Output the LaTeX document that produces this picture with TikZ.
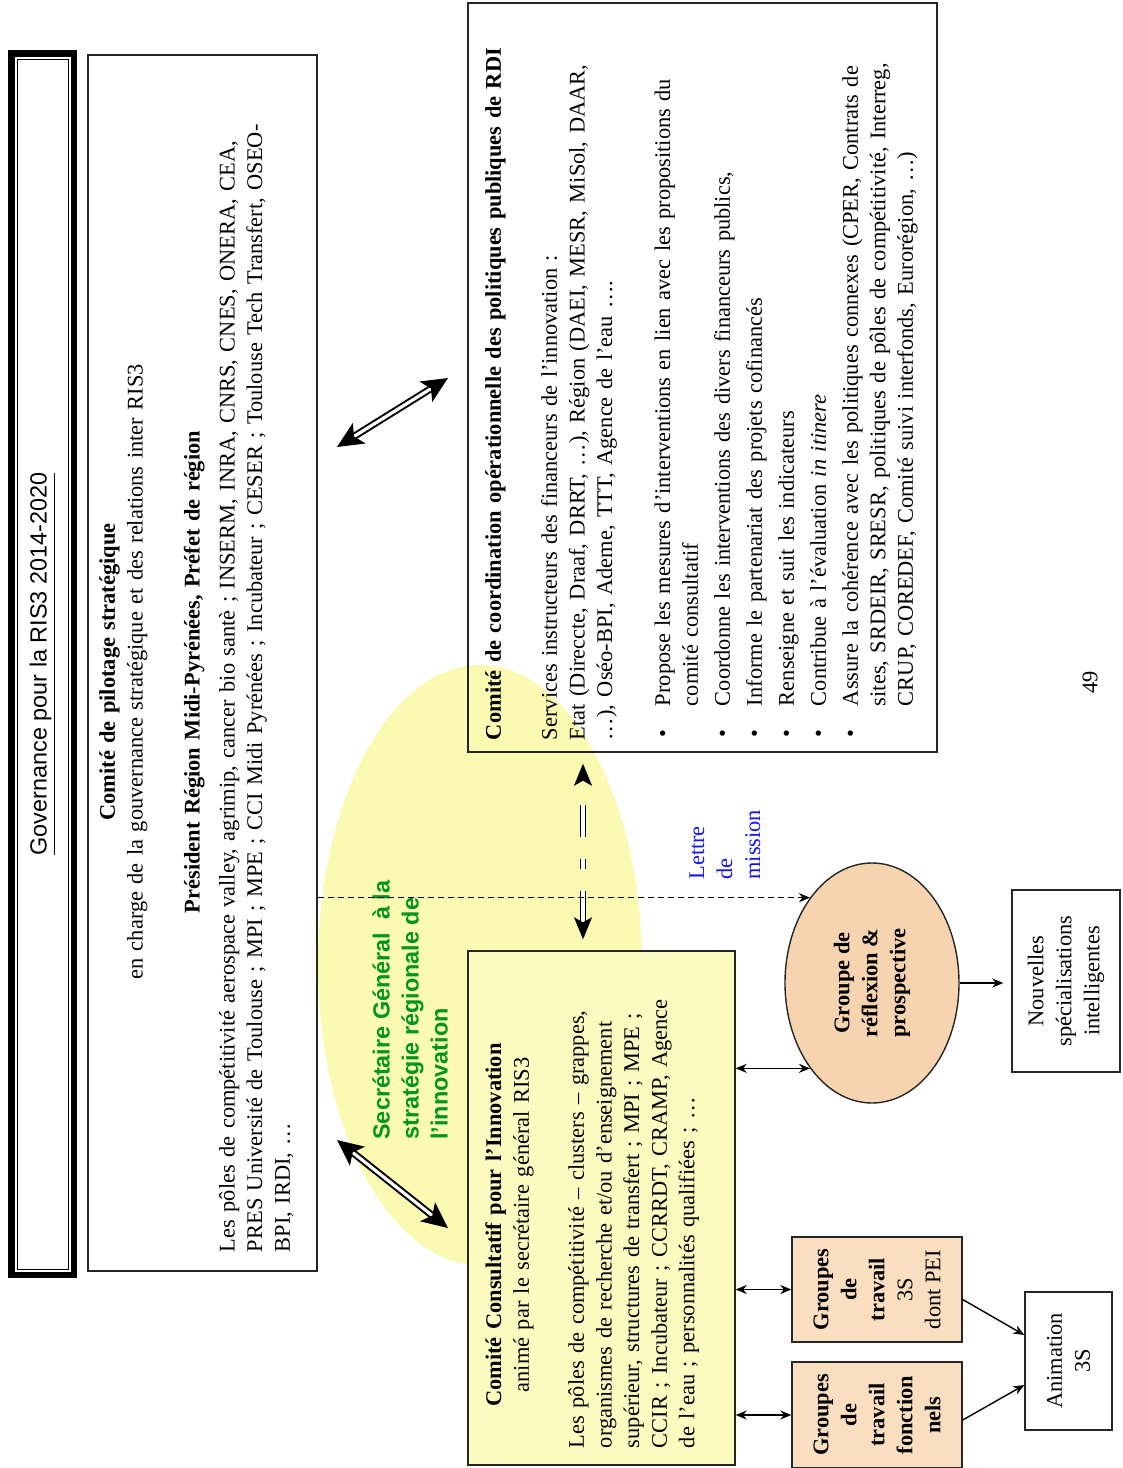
\documentclass[tikz,border=0pt]{standalone}
\usepackage{fontspec}
\setmainfont{Liberation Serif}
\setsansfont{Liberation Sans}
\usetikzlibrary{arrows.meta,shapes.geometric,calc}
\definecolor{ellyellow}{RGB}{250,250,178}
\definecolor{boxyellow}{RGB}{252,252,192}
\definecolor{peach}{RGB}{247,212,176}
\definecolor{peachbox}{RGB}{250,222,192}
\definecolor{sggreen}{RGB}{0,150,30}
\definecolor{lmblue}{RGB}{20,20,250}
\newcommand\rbul{\par\vspace{2.2pt}\noindent\hangindent=17pt\hangafter=1\makebox[17pt][l]{\hspace{1.5pt}\textbullet}}
\newcommand\jline[1]{\noindent\makebox[\linewidth][s]{#1}\par}
\begin{document}
\begin{tikzpicture}[x=0.5pt,y=-0.5pt,
  bx/.style={draw=black!85, line width=0.7pt, inner sep=0pt},
  rtxt/.style={rotate=90, inner sep=0pt, font=\fontsize{11.2}{13.8}\selectfont},
  sarr/.style={line width=0.7pt, {Stealth[length=5.5pt,width=4.5pt]}-{Stealth[length=5.5pt,width=4.5pt]}},
  oarr/.style={line width=0.7pt, -{Stealth[length=5.5pt,width=4.5pt]}},
  dsh/.style={line width=0.6pt, dash pattern=on 3pt off 2pt, -{Stealth[length=5.5pt,width=4.5pt]}},
  dblarr/.style={double, double distance=1.6pt, line width=1pt,
     {Stealth[length=13pt,width=12pt,inset=3pt]}-{Stealth[length=13pt,width=12pt,inset=3pt]}},
  vdbl/.style={double, double distance=1.6pt, line width=0.9pt,
     dash pattern=on 16pt off 11pt on 5pt off 11pt on 16pt off 40pt,
     {Stealth[length=11pt,width=9pt,inset=2.5pt]}-{Stealth[length=11pt,width=9pt,inset=2.5pt]}}
]
\fill[white] (0,0) rectangle (1123,1468);
\useasboundingbox (0,0) rectangle (1123,1468);

% yellow background ellipse
\fill[ellyellow] (480,965) ellipse [x radius=81pt, y radius=150pt];

% title frame
\node[draw, line width=3pt, inner sep=0pt, minimum width=31.5pt, minimum height=611pt] (tb) at (42.5,664) {};
\draw[line width=0.5pt] ([shift={(3pt,-3pt)}]tb.north west) rectangle ([shift={(-3pt,3pt)}]tb.south east);
\draw[line width=0.5pt] ([shift={(4.5pt,-4.5pt)}]tb.north west) rectangle ([shift={(-4.5pt,4.5pt)}]tb.south east);
\node[rotate=90, inner sep=0pt, font=\sffamily\fontsize{11.7}{13.8}\selectfont] (ttl) at (tb.center) {\underline{Governance pour la RIS3 2014-2020}};

% boxes
\node[bx, minimum width=114.5pt, minimum height=608pt] (pilot) at (202.5,663) {};
\node[bx, minimum width=234.5pt, minimum height=374.5pt] (coordb) at (702.5,377.5) {};
\node[bx, fill=boxyellow, minimum width=133.5pt, minimum height=257pt] (cci) at (601.5,1208) {};
\node[bx, ellipse, fill=peach, minimum width=87pt, minimum height=120pt] (grp) at (872,983) {};
\node[bx, minimum width=54pt, minimum height=91pt] (nsi) at (1066,981) {};
\node[bx, fill=peachbox, minimum width=85pt, minimum height=52.5pt] (g3s) at (877,1289.5) {};
\node[bx, fill=peachbox, minimum width=85pt, minimum height=53pt] (gfn) at (877,1415) {};
\node[bx, minimum width=43.5pt, minimum height=69pt] (anim) at (1068.5,1361) {};

% texts of boxes
\node[rtxt, text width=580pt, anchor=north] (ptxt) at (99,672) {%
{\centering\textbf{Comité de pilotage stratégique}\\
en charge de la gouvernance stratégique et des relations inter RIS3\par}
\vspace{14.7pt}
{\centering\textbf{Président Région Midi-Pyrénées, Préfet de région}\par}
\vspace{3.7pt}
\jline{Les pôles de compétitivité aerospace valley, agrimip, cancer bio santè ; INSERM, INRA, CNRS, CNES, ONERA, CEA,}
\jline{PRES Université de Toulouse ; MPI ; MPE ; CCI Midi Pyrénées ; Incubateur ; CESER ; Toulouse Tech Transfert, OSEO-}
BPI, IRDI, …\par};

\node[rtxt, text width=359pt, anchor=north] (ctxt) at (485,381) {%
\textbf{Comité de coordination opérationnelle des politiques publiques de RDI}\par
\vspace{14.2pt}
Services instructeurs des financeurs de l’innovation :\par
\jline{Etat (Direccte, Draaf, DRRT, …), Région (DAEI, MESR, MiSol, DAAR,}
…), Oséo-BPI, Ademe, TTT, Agence de l’eau ….\par
\vspace{13pt}
\rbul Propose les mesures d’interventions en lien avec les propositions du\linebreak comité consultatif
\rbul Coordonne les interventions des divers financeurs publics,
\rbul Informe le partenariat des projets cofinancés
\rbul Renseigne et suit les indicateurs
\rbul Contribue à l’évaluation \textit{in itinere}
\rbul Assure la cohérence avec les politiques connexes (CPER, Contrats de\linebreak sites, SRDEIR, SRESR, politiques de pôles de compétitivité, Interreg,\linebreak CRUP, COREDEF, Comité suivi interfonds, Eurorégion, …)\par};

\node[rtxt, text width=223pt, anchor=north] (itxt) at (485,1225) {%
{\centering\textbf{Comité Consultatif pour l’Innovation}\\
animé par le secrétaire général RIS3\par}
\vspace{13.8pt}
\jline{Les pôles de compétitivité – clusters – grappes,}
\jline{organismes de recherche et/ou d’enseignement}
\jline{supérieur, structures de transfert ; MPI ; MPE ;}
\jline{CCIR ; Incubateur ; CCRRDT, CRAMP, Agence}
de l’eau ; personnalités qualifiées ; …\par};

\node[rtxt, align=center, font=\bfseries\fontsize{11.2}{14}\selectfont] (gtxt) at (grp.center) {Groupe de\\ réflexion \&\\ prospective};
\node[rtxt, align=center, font=\fontsize{11.2}{14}\selectfont] (ntxt) at (nsi.center) {Nouvelles\\ spécialisations\\ intelligentes};
\node[rtxt, align=center, font=\fontsize{11.2}{14}\selectfont] (g3txt) at (g3s.center) {\textbf{Groupes}\\ \textbf{de}\\ \textbf{travail}\\ 3S\\ dont PEI};
\node[rtxt, align=center, font=\bfseries\fontsize{11.2}{14}\selectfont] (gftxt) at (gfn.center) {Groupes\\ de\\ travail\\ fonction\\ nels};
\node[rtxt, align=center, font=\fontsize{11.2}{14}\selectfont] (atxt) at (anim.center) {Animation\\ 3S};

% free labels
\node[rotate=90, anchor=north west, inner sep=0pt, align=left, text=sggreen,
      font=\sffamily\bfseries\fontsize{11.7}{14.5}\selectfont] (sg) at (372,1140)
      {Secrétaire Général\ \ à la\\ stratégie régionale de\\ l’innovation};
\node[rotate=90, anchor=north west, inner sep=0pt, align=left, text=lmblue,
      font=\fontsize{11.2}{14}\selectfont] (lm) at (689,880) {Lettre\\ de\\ mission};
\node[rtxt] (pg) at (1090,682) {49};

% connectors
\coordinate (vx) at (583,0);
\draw[vdbl, shorten <=5.5pt, shorten >=5.5pt] (cci.north -| vx) -- (coordb.south -| vx);
\draw[dsh] (pilot.east |- grp.north west) -- (grp.north west);
\draw[sarr] (cci.east |- grp.south west) -- (grp.south west);
\draw[oarr, shorten >=4pt] (grp.east) -- (grp.east -| nsi.west);
\draw[sarr] (cci.east |- g3s.west) -- (g3s.west);
\draw[sarr] (cci.east |- gfn.west) -- (gfn.west);
\draw[oarr] ([yshift=-5pt]g3s.east) -- ([yshift=13pt]anim.west);
\draw[oarr] ([yshift=-2.5pt]gfn.east) -- ([yshift=-12pt]anim.west);
\coordinate (d1a) at (337,447);
\coordinate (d1b) at (448,378);
\coordinate (d2a) at (337,1140);
\coordinate (d2b) at (448,1228);
\draw[dblarr] (d1a) -- (d1b);
\draw[dblarr] (d2a) -- (d2b);
\end{tikzpicture}
\end{document}
